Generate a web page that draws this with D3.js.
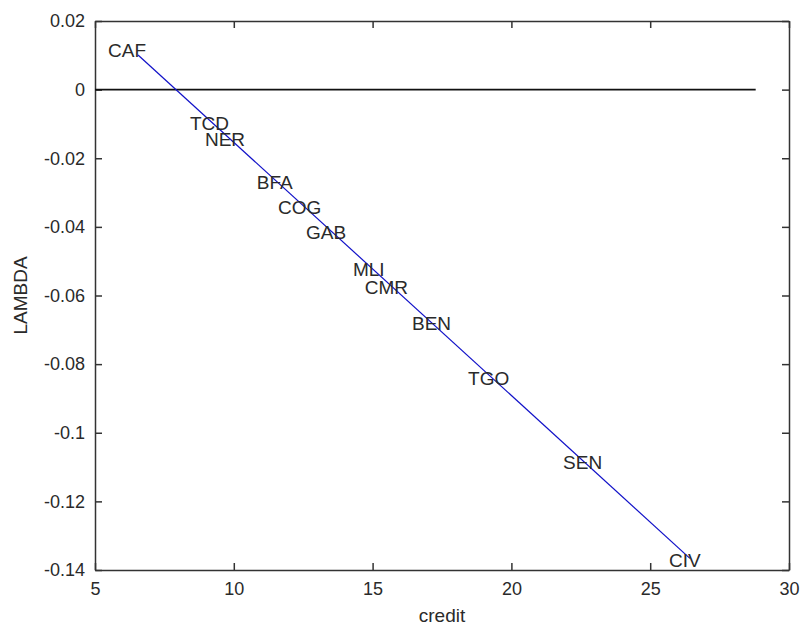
<!DOCTYPE html>
<html>
<head>
<meta charset="utf-8">
<script src="https://cdn.jsdelivr.net/npm/d3@7"></script>
<style>
  body { margin: 0; background: #fff; }
  text { font-family: "Liberation Sans", Arial, sans-serif; fill: #2a2a2a; }
</style>
</head>
<body>
<div id="chart"></div>
<script>
// country labels placed at (credit, lambda)
const countries = ["CAF", "TCD", "NER", "BFA", "COG", "GAB", "MLI", "CMR", "BEN", "TGO", "SEN", "CIV"];
const credit = [5.47, 8.42, 8.96, 10.83, 11.59, 12.6, 14.29, 14.72, 16.42, 18.44, 21.86, 25.68];
const lambda = [0.0115, -0.0097, -0.0144, -0.0269, -0.0342, -0.0415, -0.0523, -0.0576, -0.068, -0.0841, -0.1086, -0.1371];

// fitted line and the zero reference
const fitX = [6.55, 26.43];
const fitY = [0.0101, -0.1366];
const zeroX = [5, 28.8];

const xTicks = [5, 10, 15, 20, 25, 30];
const yTicks = [0.02, 0, -0.02, -0.04, -0.06, -0.08, -0.1, -0.12, -0.14];

const W = 802, H = 625;
const margin = {top: 21, right: 13, bottom: 55, left: 95};

const svg = d3.select("#chart").append("svg")
    .attr("width", W)
    .attr("height", H);

const x = d3.scaleLinear().domain([5, 30]).range([margin.left, W - margin.right]);
const y = d3.scaleLinear().domain([-0.14, 0.02]).range([H - margin.bottom, margin.top]);

const fmt = d => d === 0 ? "0" : String(d);

// axes (MATLAB style: ticks inside, box on all sides)
svg.append("g")
    .attr("class", "axis")
    .attr("transform", "translate(0," + y(-0.14) + ")")
    .call(d3.axisBottom(x).tickValues(xTicks).tickSizeInner(-7).tickSizeOuter(0).tickPadding(12).tickFormat(fmt));

svg.append("g")
    .attr("class", "axis")
    .attr("transform", "translate(0," + y(0.02) + ")")
    .call(d3.axisTop(x).tickValues(xTicks).tickSizeInner(-7).tickSizeOuter(0).tickFormat(""));

svg.append("g")
    .attr("class", "axis")
    .attr("transform", "translate(" + x(5) + ",0)")
    .call(d3.axisLeft(y).tickValues(yTicks).tickSizeInner(-7).tickSizeOuter(0).tickPadding(10).tickFormat(fmt));

svg.append("g")
    .attr("class", "axis")
    .attr("transform", "translate(" + x(30) + ",0)")
    .call(d3.axisRight(y).tickValues(yTicks).tickSizeInner(-7).tickSizeOuter(0).tickFormat(""));

svg.selectAll(".axis path").attr("stroke", "#333").attr("stroke-width", 1.5);
svg.selectAll(".axis line").attr("stroke", "#333").attr("stroke-width", 1.5);
svg.selectAll(".axis text").style("font-size", "18px").attr("fill", "#2a2a2a");
svg.selectAll(".axis .domain").attr("d", function() { return d3.select(this).attr("d"); });

// zero line
svg.append("line")
    .attr("x1", x(zeroX[0])).attr("x2", x(zeroX[1]))
    .attr("y1", y(0)).attr("y2", y(0))
    .attr("stroke", "#111")
    .attr("stroke-width", 1.6);

// fitted line
const line = d3.line()
    .x((d, i) => x(fitX[i]))
    .y(d => y(d));

svg.append("path")
    .datum(fitY)
    .attr("d", line)
    .attr("fill", "none")
    .attr("stroke", "#1010c8")
    .attr("stroke-width", 1.2);

// country labels
svg.append("g").selectAll("text")
    .data(countries)
    .join("text")
    .attr("x", (d, i) => x(credit[i]))
    .attr("y", (d, i) => y(lambda[i]))
    .attr("dy", "0.35em")
    .style("font-size", "19px")
    .text(d => d);

// axis titles
svg.append("text")
    .attr("x", (x(5) + x(30)) / 2)
    .attr("y", 622)
    .attr("text-anchor", "middle")
    .style("font-size", "19px")
    .text("credit");

svg.append("text")
    .attr("transform", "translate(27," + (y(-0.14) + y(0.02)) / 2 + ") rotate(-90)")
    .attr("text-anchor", "middle")
    .style("font-size", "19px")
    .text("LAMBDA");
</script>
</body>
</html>
